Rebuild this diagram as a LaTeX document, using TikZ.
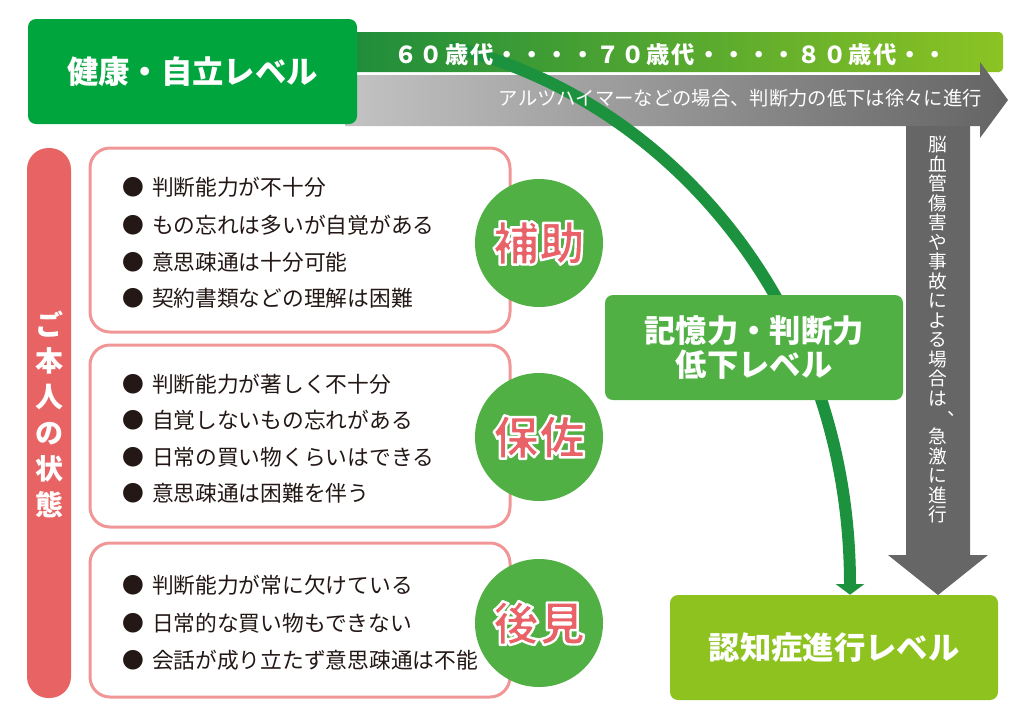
\documentclass[tikz,border=0pt]{standalone}
\usepackage{fontspec}
\setmainfont{Noto Sans CJK JP}
\newfontfamily\agefont{Noto Sans CJK JP}[LetterSpace=8]
\usetikzlibrary{arrows.meta,positioning,calc}
\definecolor{healthgreen}{RGB}{0,165,62}
\definecolor{midgreen}{RGB}{80,176,68}
\definecolor{lategreen}{RGB}{141,194,31}
\definecolor{curvegreen}{RGB}{28,146,62}
\definecolor{bandleft}{RGB}{30,140,60}
\definecolor{bandright}{RGB}{140,195,35}
\definecolor{grayleft}{RGB}{195,195,195}
\definecolor{grayright}{RGB}{100,100,100}
\definecolor{arrowgray}{RGB}{102,102,102}
\definecolor{statuspink}{RGB}{232,100,100}
\definecolor{framepink}{RGB}{240,150,150}
\definecolor{rolepink}{RGB}{232,98,104}
\definecolor{itemtext}{RGB}{35,24,21}
% pink letters with a thin white rim
\newcommand{\rimmed}[1]{\special{pdf:literal direct 2 Tr 1 1 1 RG 1.8 w}#1\special{pdf:literal direct 0 Tr}}

\begin{document}
\begin{tikzpicture}[x=0.75pt, y=-0.75pt, line join=round,
  wh/.style 2 args={minimum width=#1*0.75pt, minimum height=#2*0.75pt},
  levelbox/.style={rounded corners=6pt, text=white, inner sep=0pt,
    font=\bfseries\fontsize{23.5}{26}\selectfont},
  casebox/.style={draw=framepink, line width=2.25pt, fill=white, rounded corners=15pt},
  item/.style={anchor=west, inner sep=0pt, text=itemtext, font=\fontsize{16.3}{18}\selectfont},
  role/.style={circle, fill=midgreen, minimum size=96pt, inner sep=0pt, text=rolepink,
    font=\bfseries\fontsize{34.5}{38}\selectfont}]
\useasboundingbox (0,0) rectangle (1024,719);
% age band and slow progression arrow
\shade[left color=bandleft, right color=bandright, rounded corners=3pt] (345,32) rectangle (1003,72);
\shade[left color=grayleft, right color=grayright]
  (345,75) -- (980,75) -- (980,62) -- (1008,100) -- (980,138) -- (980,126) -- (345,126) -- cycle;
% sudden progression arrow
\fill[arrowgray] (906,126) -- (970,126) -- (970,555) -- (988,555) -- (938,595)
  -- (888,555) -- (906,555) -- cycle;
\node[align=center, text=white, inner sep=0pt, font=\fontsize{14}{14.6}\selectfont] (suddenlabel) at (938,330)
  {脳\\血\\管\\傷\\害\\や\\事\\故\\に\\よ\\る\\場\\合\\は\\\makebox[1em][l]{\hspace{1.02em}\raisebox{0.5em}{、}}\\急\\激\\に\\進\\行};

% levels
\node[levelbox, fill=healthgreen, wh={329}{105}] (healthy) at (192.5,71.5) {健康・自立レベル};
\node[levelbox, fill=lategreen, wh={328}{105}] (late) at (834,647.5) {認知症進行レベル};
\coordinate (cstart) at (450,47);
\draw[curvegreen, line width=9pt, -{Triangle[width=21pt,length=8pt]}]
  (cstart) .. controls (660,95) and (850,300) .. ($(late.north)+(16,0)$);
\node[levelbox, fill=midgreen, wh={298}{105}, align=center] (decline) at (754,347.5) {記憶力・判断力\\低下レベル};
\node[text=white, inner sep=0pt, font=\agefont\bfseries\fontsize{17.5}{19}\selectfont] (ages) at (671,55)
  {６０歳代・・・・７０歳代・・・・８０歳代・・};
\node[anchor=east, text=white, inner sep=0pt, font=\fontsize{14.5}{16}\selectfont] (slowlabel) at (982,98)
  {アルツハイマーなどの場合、判断力の低下は徐々に進行};

% personal state
\node[fill=statuspink, rounded corners=16pt, wh={44}{550}] (status) at (49,423) {};
\node[align=center, text=white, inner sep=0pt, font=\bfseries\fontsize{21}{27}\selectfont] (statuslabel) at (49,414)
  {ご\\本\\人\\の\\状\\態};

\node[casebox, wh={420}{184}] (case1) at (300,240) {};
\node[casebox, wh={420}{182}] (case2) at (300,436) {};
\node[casebox, wh={420}{154}] (case3) at (300,620) {};
\foreach \y/\t in {187/判断能力が不十分, 225/もの忘れは多いが自覚がある,
  262/意思疎通は十分可能, 298/契約書類などの理解は困難}
  \node[item] (a\y) at (122,\y) {●\hspace{6pt}\t};
\foreach \y/\t in {384/判断能力が著しく不十分, 420/自覚しないもの忘れがある,
  457/日常の買い物くらいはできる, 493/意思疎通は困難を伴う}
  \node[item] (b\y) at (122,\y) {●\hspace{6pt}\t};
\foreach \y/\t in {585/判断能力が常に欠けている, 623/日常的な買い物もできない,
  660/会話が成り立たず意思疎通は不能}
  \node[item] (c\y) at (122,\y) {●\hspace{6pt}\t};

\node[role] (assist) at (539,243) {\rimmed{補助}};
\node[role] (curator) at (539,437) {\rimmed{保佐}};
\node[role] (guardian) at (539,623) {\rimmed{後見}};
\end{tikzpicture}
\end{document}
